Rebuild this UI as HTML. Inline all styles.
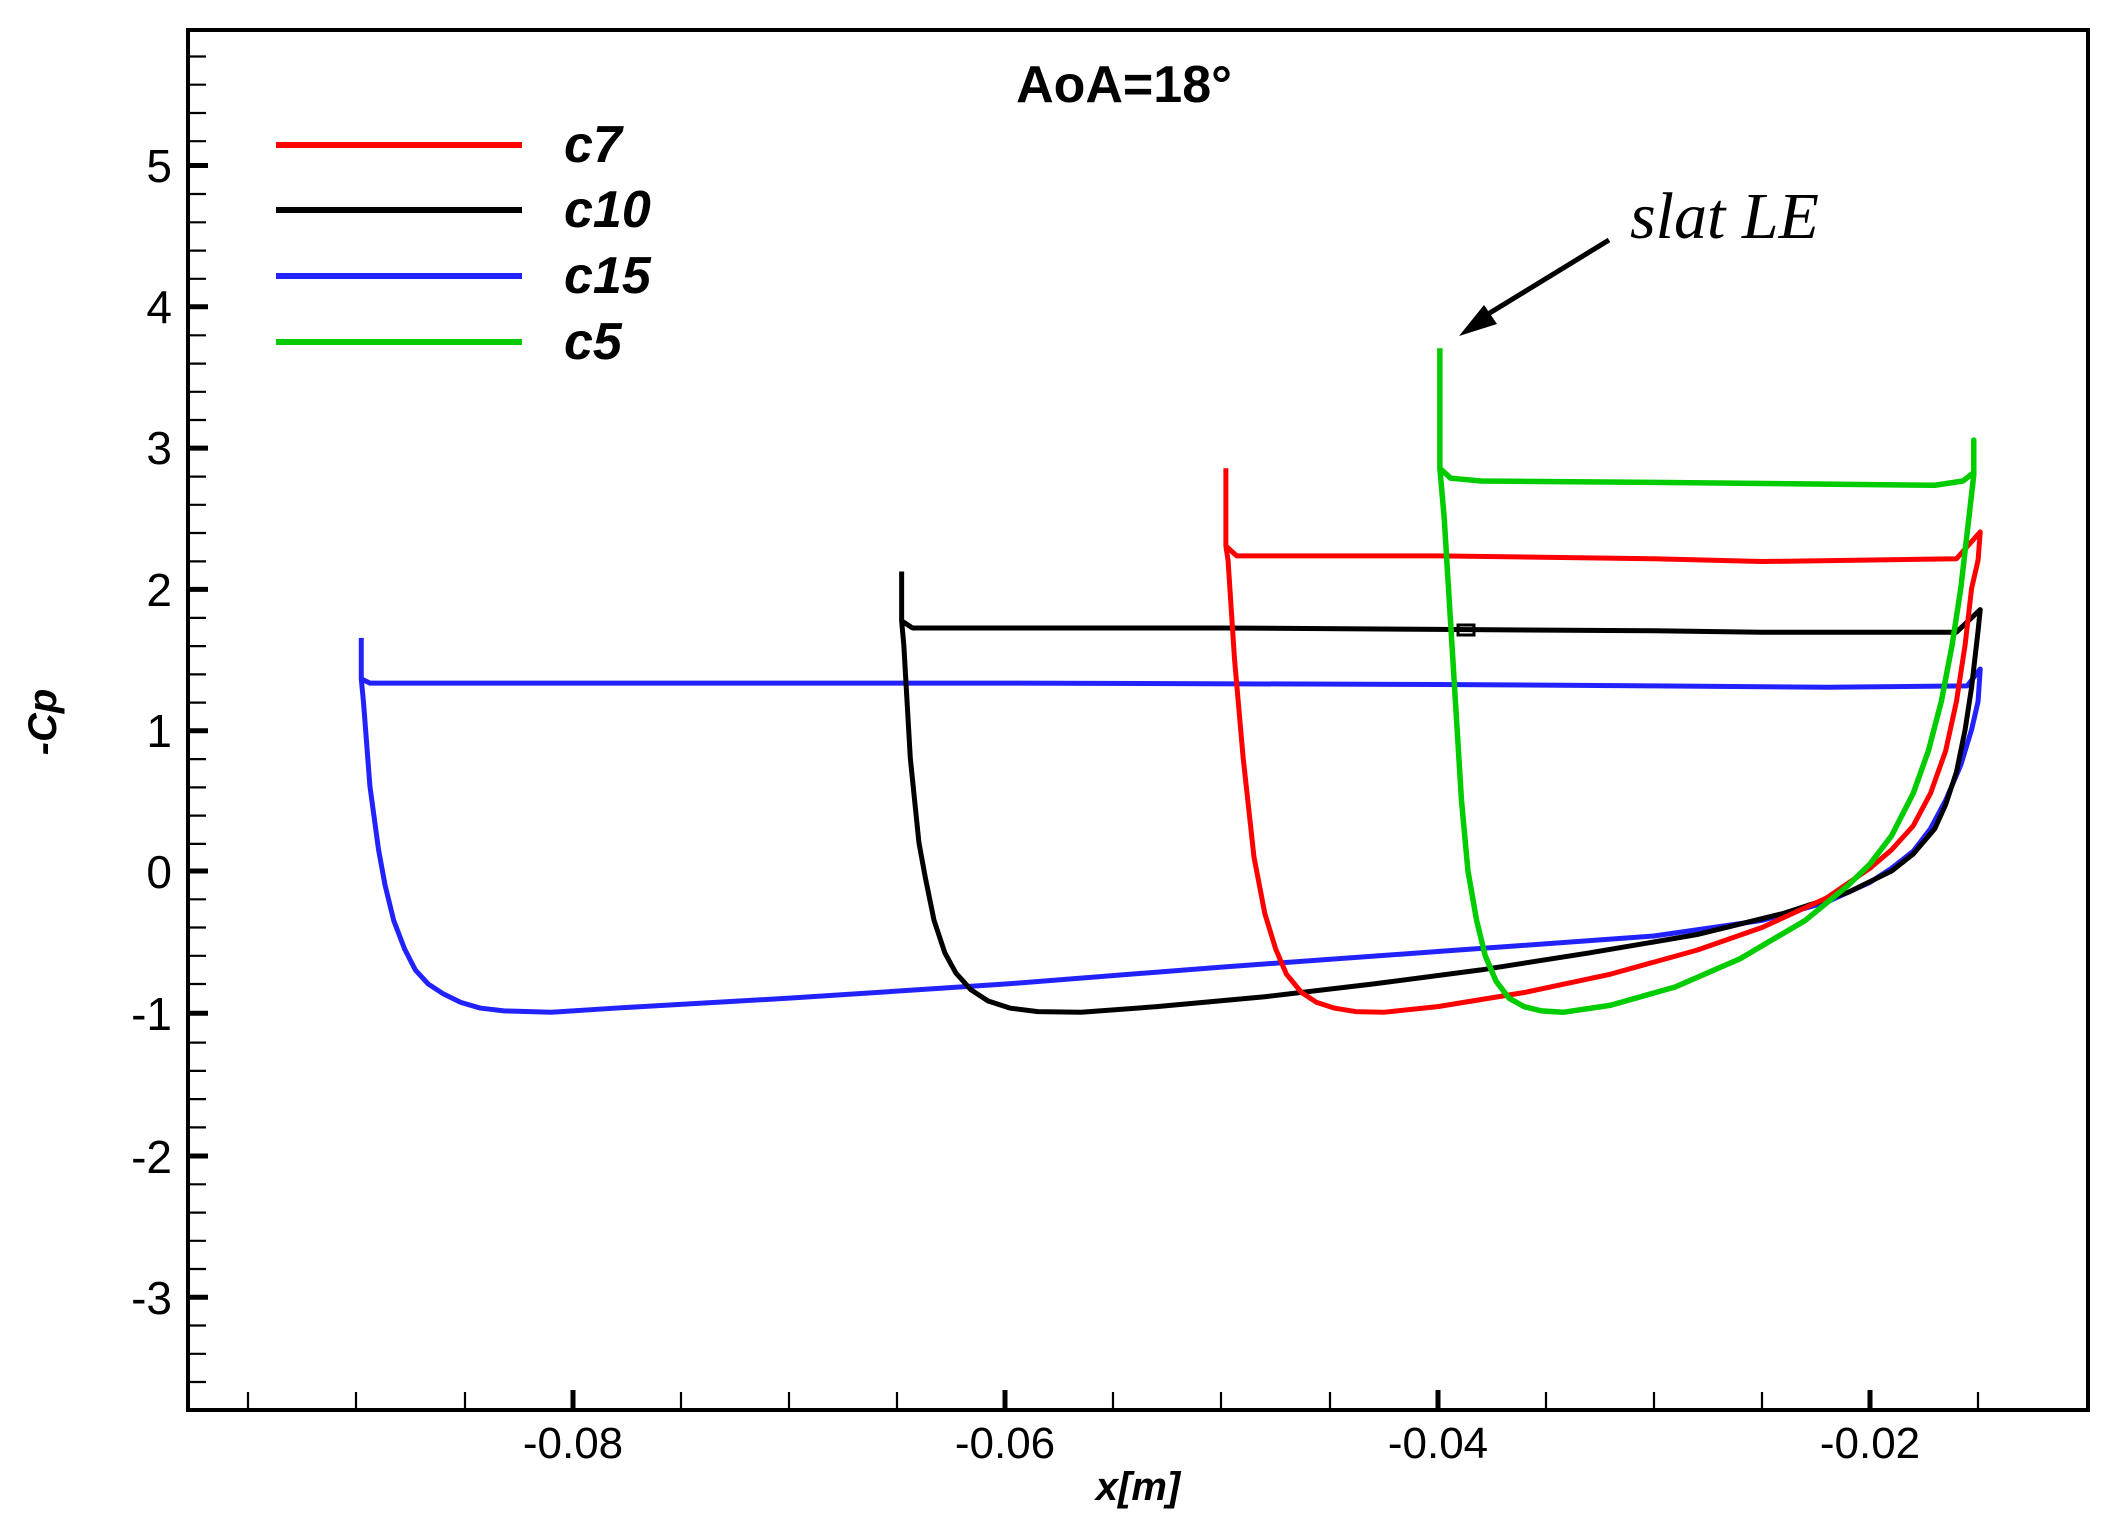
<!DOCTYPE html>
<html><head><meta charset="utf-8"><style>
html,body{margin:0;padding:0;background:#fff;}
svg{display:block;}
</style></head><body>
<svg width="2104" height="1534" viewBox="0 0 2104 1534" xmlns="http://www.w3.org/2000/svg">
<rect width="2104" height="1534" fill="#fff"/>
<g font-family="Liberation Sans, sans-serif">
<g stroke="#000">
<g stroke-width="2.2">
<path d="M188 56.5h18M188 84.7h18M188 113h18M188 141.2h18M188 194h18M188 222.3h18M188 250.6h18M188 278.8h18M188 335.3h18M188 363.6h18M188 391.8h18M188 420h18M188 476.6h18M188 504.8h18M188 533h18M188 561.4h18M188 617.9h18M188 646.1h18M188 674.4h18M188 702.6h18M188 759.1h18M188 787.4h18M188 815.6h18M188 843.9h18M188 899.3h18M188 927.5h18M188 955.8h18M188 984h18M188 1042.6h18M188 1070.9h18M188 1099.1h18M188 1127.4h18M188 1184.3h18M188 1212.6h18M188 1240.8h18M188 1269h18M188 1325.5h18M188 1353.8h18M188 1382h18"/>
<path d="M248 1410v-18M356 1410v-18M465 1410v-18M681 1410v-18M789 1410v-18M897 1410v-18M1113 1410v-18M1221 1410v-18M1330 1410v-18M1546 1410v-18M1654 1410v-18M1762 1410v-18M1978 1410v-18"/>
</g>
<g stroke-width="5">
<path d="M188 165.5h20M188 306.8h20M188 448.1h20M188 589.4h20M188 730.7h20M188 871h20M188 1013.3h20M188 1156h20M188 1297.3h20"/>
<path d="M573 1410v-20M1005 1410v-20M1438 1410v-20M1870 1410v-20"/>
</g>
<rect x="188" y="30" width="1900" height="1380" fill="none" stroke-width="4"/>
</g>
<g font-size="46" text-anchor="end" fill="#000">
<text x="172" y="182">5</text><text x="172" y="323">4</text><text x="172" y="464">3</text>
<text x="172" y="606">2</text><text x="172" y="747">1</text><text x="172" y="888">0</text>
<text x="172" y="1030">-1</text><text x="172" y="1173">-2</text><text x="172" y="1314">-3</text>
</g>
<g font-size="44" text-anchor="middle" fill="#000">
<text x="573" y="1458">-0.08</text><text x="1005" y="1458">-0.06</text>
<text x="1438" y="1458">-0.04</text><text x="1870" y="1458">-0.02</text>
</g>
<text x="1138" y="1500" font-size="40" font-weight="bold" font-style="italic" text-anchor="middle">x[m]</text>
<text transform="translate(56,722) rotate(-90)" font-size="40" font-weight="bold" font-style="italic" text-anchor="middle">-Cp</text>
<text x="1124" y="102" font-size="52" font-weight="bold" text-anchor="middle">AoA=18°</text>
<text x="1630" y="238" font-size="66" font-style="italic" font-family="Liberation Serif, serif">slat LE</text>
<path d="M1609 240L1475 322" stroke="#000" stroke-width="5"/>
<path d="M1459 336L1484 305L1497 324Z" fill="#000"/>
<g stroke-width="6">
<path d="M276 145h246" stroke="#ff0000"/>
<path d="M276 210h246" stroke="#000"/>
<path d="M276 276h246" stroke="#2222ff"/>
<path d="M276 342h246" stroke="#00cc00"/>
</g>
<g font-size="52" font-weight="bold" font-style="italic">
<text x="564" y="162">c7</text><text x="564" y="227">c10</text>
<text x="564" y="293">c15</text><text x="564" y="359">c5</text>
</g>
</g>
<g transform="matrix(21615,0,0,-141.3,2302.3,871)" fill="none" stroke-linejoin="round">
<path vector-effect="non-scaling-stroke" stroke="#2222ff" stroke-width="5" d="M-0.0898 1.65 L-0.0898 1.36 L-0.0894 1.33 L-0.06 1.33 L-0.04 1.32 L-0.03 1.31 L-0.022 1.30 L-0.0155 1.31 L-0.0149 1.43 L-0.0150 1.2 L-0.0153 1.0 L-0.0158 0.75 L-0.0165 0.5 L-0.0172 0.3 L-0.018 0.14 L-0.019 0.02 L-0.020 -0.08 L-0.022 -0.22 L-0.025 -0.35 L-0.03 -0.46 L-0.04 -0.57 L-0.05 -0.68 L-0.06 -0.8 L-0.07 -0.9 L-0.078 -0.97 L-0.081 -1.0 L-0.0832 -0.99 L-0.0843 -0.97 L-0.0852 -0.93 L-0.086 -0.87 L-0.0867 -0.8 L-0.0873 -0.7 L-0.0878 -0.55 L-0.0883 -0.35 L-0.0887 -0.1 L-0.089 0.15 L-0.0894 0.6 L-0.0897 1.2 L-0.0898 1.36"/>
<path vector-effect="non-scaling-stroke" stroke="#000" stroke-width="5" d="M-0.0648 2.12 L-0.0648 1.77 L-0.0643 1.72 L-0.05 1.72 L-0.04 1.71 L-0.03 1.70 L-0.025 1.69 L-0.016 1.69 L-0.0149 1.85 L-0.0150 1.7 L-0.0153 1.3 L-0.0156 1.0 L-0.0160 0.7 L-0.0165 0.47 L-0.017 0.3 L-0.018 0.12 L-0.019 0 L-0.021 -0.15 L-0.024 -0.3 L-0.028 -0.45 L-0.033 -0.58 L-0.038 -0.7 L-0.043 -0.8 L-0.048 -0.89 L-0.053 -0.96 L-0.0565 -1.0 L-0.0585 -0.995 L-0.0598 -0.97 L-0.0608 -0.92 L-0.0616 -0.84 L-0.0623 -0.72 L-0.0628 -0.58 L-0.0633 -0.35 L-0.0637 -0.05 L-0.064 0.2 L-0.0644 0.8 L-0.0647 1.6 L-0.0648 1.77"/>
<path vector-effect="non-scaling-stroke" stroke="#ff0000" stroke-width="5" d="M-0.0498 2.85 L-0.0498 2.3 L-0.0493 2.23 L-0.04 2.23 L-0.03 2.21 L-0.025 2.19 L-0.016 2.21 L-0.0149 2.4 L-0.0150 2.2 L-0.0153 2.0 L-0.0156 1.6 L-0.0160 1.2 L-0.0165 0.85 L-0.0172 0.55 L-0.018 0.32 L-0.019 0.15 L-0.020 0.02 L-0.022 -0.19 L-0.025 -0.4 L-0.028 -0.56 L-0.032 -0.73 L-0.036 -0.86 L-0.040 -0.96 L-0.0425 -1.0 L-0.0438 -0.995 L-0.0448 -0.97 L-0.0456 -0.93 L-0.0463 -0.86 L-0.047 -0.73 L-0.0475 -0.55 L-0.048 -0.3 L-0.0485 0.1 L-0.049 0.8 L-0.0494 1.5 L-0.0497 2.2 L-0.0498 2.3"/>
<path vector-effect="non-scaling-stroke" stroke="#00cc00" stroke-width="5.5" d="M-0.0399 3.7 L-0.0399 2.85 L-0.0394 2.78 L-0.038 2.76 L-0.03 2.75 L-0.017 2.73 L-0.0157 2.76 L-0.0152 2.82 L-0.0152 3.05 L-0.0152 2.8 L-0.0155 2.4 L-0.0158 2.0 L-0.0162 1.6 L-0.0167 1.2 L-0.0173 0.85 L-0.018 0.55 L-0.019 0.25 L-0.020 0.05 L-0.021 -0.1 L-0.023 -0.35 L-0.026 -0.62 L-0.029 -0.82 L-0.032 -0.95 L-0.0342 -1.0 L-0.0352 -0.99 L-0.036 -0.96 L-0.0367 -0.9 L-0.0373 -0.78 L-0.0378 -0.6 L-0.0382 -0.35 L-0.0386 0 L-0.0389 0.5 L-0.0393 1.5 L-0.0397 2.5 L-0.0399 2.85"/>
</g>
<rect x="1458" y="625" width="16" height="10" fill="none" stroke="#000" stroke-width="3"/>
</svg>
</body></html>
